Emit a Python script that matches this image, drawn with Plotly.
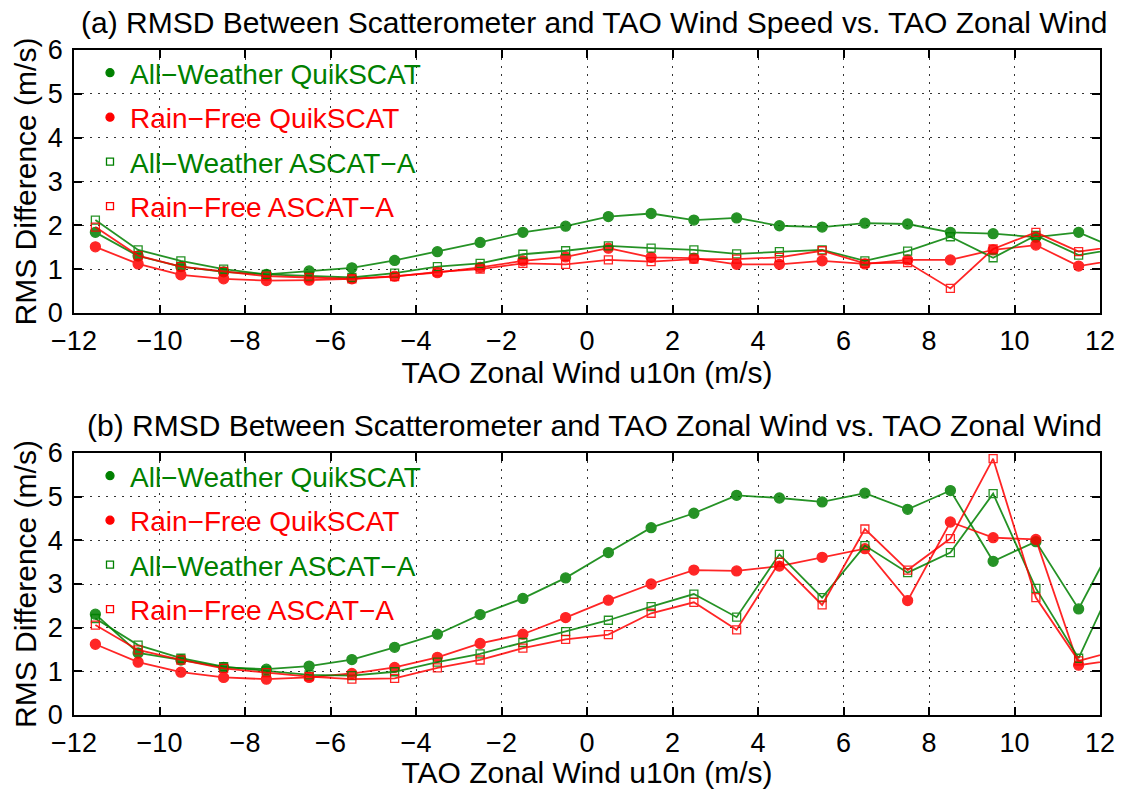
import plotly.graph_objects as go

# TAO zonal wind bin centres (m/s); the last bin lies just beyond the axis range
zonal_wind = [-11.5, -10.5, -9.5, -8.5, -7.5, -6.5, -5.5, -4.5, -3.5, -2.5, -1.5, -0.5,
              0.5, 1.5, 2.5, 3.5, 4.5, 5.5, 6.5, 7.5, 8.5, 9.5, 10.5, 11.5, 12.5]

# (a) RMSD of wind speed
speed_aw_qscat = [1.84, 1.30, 1.06, 0.94, 0.88, 0.96, 1.03, 1.20, 1.40, 1.61, 1.84, 1.98,
                  2.20, 2.27, 2.12, 2.17, 1.99, 1.96, 2.05, 2.03, 1.84, 1.81, 1.73, 1.84, 1.42]
speed_rf_qscat = [1.51, 1.12, 0.87, 0.78, 0.74, 0.75, 0.78, 0.84, 0.92, 1.04, 1.19, 1.28,
                  1.48, 1.27, 1.25, 1.11, 1.11, 1.19, 1.12, 1.21, 1.21, 1.44, 1.55, 1.07, 1.23]
speed_aw_ascat = [2.12, 1.44, 1.19, 1.00, 0.88, 0.84, 0.81, 0.91, 1.06, 1.13, 1.34, 1.42,
                  1.53, 1.48, 1.44, 1.35, 1.40, 1.44, 1.19, 1.41, 1.74, 1.26, 1.77, 1.32, 1.48]
speed_rf_ascat = [1.96, 1.31, 1.06, 0.95, 0.84, 0.81, 0.78, 0.83, 0.94, 1.00, 1.13, 1.11,
                  1.21, 1.17, 1.23, 1.23, 1.27, 1.42, 1.13, 1.15, 0.56, 1.46, 1.84, 1.40, 1.54]

# (b) RMSD of zonal wind
zonal_aw_qscat = [2.31, 1.42, 1.26, 1.09, 1.05, 1.12, 1.27, 1.55, 1.85, 2.30, 2.67, 3.14,
                  3.72, 4.29, 4.62, 5.03, 4.97, 4.88, 5.08, 4.71, 5.14, 3.52, 3.97, 2.43, 4.29]
zonal_rf_qscat = [1.62, 1.21, 0.98, 0.86, 0.82, 0.86, 0.95, 1.09, 1.32, 1.64, 1.85, 2.23,
                  2.63, 3.00, 3.32, 3.30, 3.41, 3.61, 3.81, 2.62, 4.42, 4.06, 4.02, 1.14, 1.28]
zonal_aw_ascat = [2.21, 1.60, 1.30, 1.11, 1.01, 0.92, 0.90, 0.99, 1.21, 1.40, 1.66, 1.91,
                  2.17, 2.48, 2.77, 2.24, 3.68, 2.69, 3.88, 3.26, 3.72, 5.07, 2.90, 1.30, 3.42]
zonal_rf_ascat = [2.06, 1.49, 1.26, 1.07, 0.97, 0.88, 0.82, 0.84, 1.08, 1.26, 1.53, 1.73,
                  1.84, 2.33, 2.58, 1.95, 3.50, 2.52, 4.26, 3.32, 4.04, 5.87, 2.69, 1.24, 1.50]

series_names = ["All\u2212Weather QuikSCAT", "Rain\u2212Free QuikSCAT",
                "All\u2212Weather ASCAT\u2212A", "Rain\u2212Free ASCAT\u2212A"]
panel_titles = ["(a) RMSD Between Scatterometer and TAO Wind Speed vs. TAO Zonal Wind",
                "(b) RMSD Between Scatterometer and TAO Zonal Wind vs. TAO Zonal Wind"]
x_ticks = [-12, -10, -8, -6, -4, -2, 0, 2, 4, 6, 8, 10, 12]
y_ticks = [0, 1, 2, 3, 4, 5, 6]

GREEN = "#008000"
RED = "#ff0000"
FONT = "Liberation Sans, Arial, Helvetica, sans-serif"
W, H = 1121, 789

styles = [
    dict(color=GREEN, symbol="circle"),
    dict(color=RED, symbol="circle"),
    dict(color=GREEN, symbol="square-open"),
    dict(color=RED, symbol="square-open"),
]

panels = [
    dict(series=[speed_aw_qscat, speed_rf_qscat, speed_aw_ascat, speed_rf_ascat],
         top=50, bottom=313, xa="x", ya="y"),
    dict(series=[zonal_aw_qscat, zonal_rf_qscat, zonal_aw_ascat, zonal_rf_ascat],
         top=453, bottom=715, xa="x2", ya="y2"),
]

plot_left, plot_right = 74, 1100


def px_x(p):
    return p / W


def px_y(p):
    return 1 - p / H


fig = go.Figure()
legend_layouts = {}
annotations = []
leg_idx = 0

for pi, panel in enumerate(panels):
    for si, vals in enumerate(panel["series"]):
        st = styles[si]
        filled = st["symbol"] == "circle"
        fig.add_trace(go.Scatter(
            x=zonal_wind, y=vals, mode="lines+markers",
            line=dict(color=st["color"], width=1.8),
            marker=dict(symbol=st["symbol"], color=st["color"],
                        size=10 if filled else 8,
                        line=dict(color=st["color"], width=1.3)),
            xaxis=panel["xa"], yaxis=panel["ya"],
            showlegend=False, opacity=0.85,
        ))
    # one legend per entry so each label can carry its own colour
    for si, name in enumerate(series_names):
        st = styles[si]
        filled = st["symbol"] == "circle"
        leg_idx += 1
        key = "legend" if leg_idx == 1 else f"legend{leg_idx}"
        fig.add_trace(go.Scatter(
            x=[None], y=[None], mode="markers", name=name,
            marker=dict(symbol=st["symbol"], color=st["color"],
                        size=8 if filled else 7,
                        line=dict(color=st["color"], width=1.3)),
            xaxis=panel["xa"], yaxis=panel["ya"],
            showlegend=True, legend=key,
        ))
        item_y = panel["top"] + 23 + si * 44.5
        legend_layouts[key] = dict(
            x=px_x(90), y=px_y(item_y), xanchor="left", yanchor="middle",
            bgcolor="rgba(0,0,0,0)", borderwidth=0,
            font=dict(family=FONT, size=28, color=st["color"]),
            itemwidth=30, tracegroupgap=0,
        )
    annotations.append(dict(
        text=panel_titles[pi], xref="paper", yref="paper",
        x=px_x((plot_left + plot_right) / 2 + 7), y=px_y(panel["top"] - 28),
        xanchor="center", yanchor="middle", showarrow=False,
        font=dict(family=FONT, size=30, color="black"),
    ))

axis_common = dict(
    showline=True, linecolor="black", linewidth=1.5, mirror="ticks",
    ticks="inside", ticklen=8, tickwidth=1.5, tickcolor="black",
    showgrid=True, gridcolor="#333333", gridwidth=1, griddash="1.5px,6.5px",
    zeroline=False, automargin=False,
    tickfont=dict(family=FONT, size=27, color="black"),
)

for pi, panel in enumerate(panels):
    sfx = "" if pi == 0 else "2"
    dom_y = [px_y(panel["bottom"]), px_y(panel["top"])]
    fig.layout["xaxis" + sfx] = dict(
        axis_common, domain=[px_x(plot_left), px_x(plot_right)],
        range=[-12, 12], tickvals=x_ticks, anchor="y" + sfx,
        ticklabelstandoff=3,
        title=dict(text="TAO Zonal Wind u10n (m/s)", standoff=0,
                   font=dict(family=FONT, size=30, color="black")),
    )
    fig.layout["yaxis" + sfx] = dict(
        axis_common, domain=dom_y, range=[0, 6], tickvals=y_ticks,
        anchor="x" + sfx, ticklabelstandoff=4,
        title=dict(text="RMS Difference (m/s)", standoff=2,
                   font=dict(family=FONT, size=30, color="black")),
    )

fig.update_layout(
    width=W, height=H, margin=dict(l=0, r=0, t=0, b=0),
    paper_bgcolor="white", plot_bgcolor="white",
    annotations=annotations, **legend_layouts,
)

fig.write_html("out.html")
